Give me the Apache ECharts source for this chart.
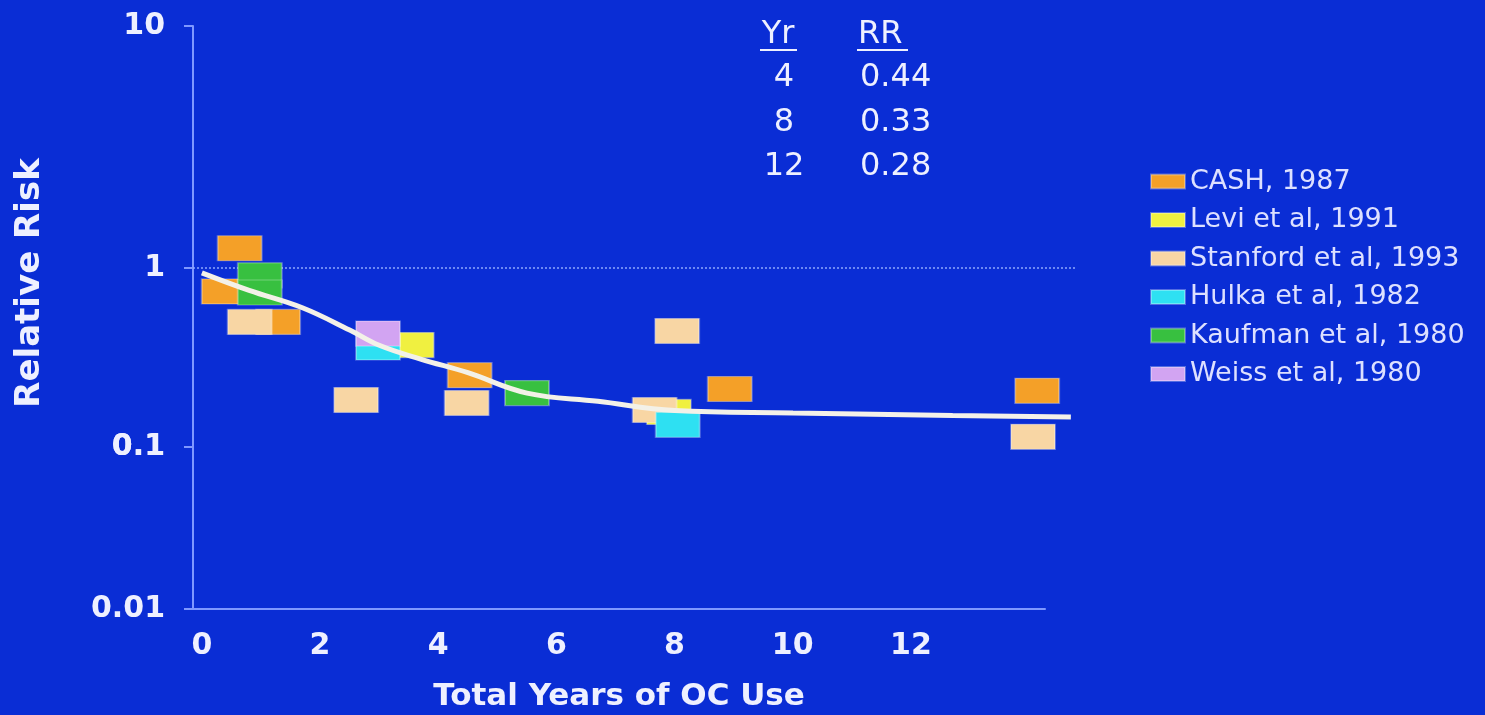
<!DOCTYPE html>
<html>
<head>
<meta charset="utf-8">
<script src="https://cdn.jsdelivr.net/npm/echarts@6/dist/echarts.min.js"></script>
<style>
html,body{margin:0;padding:0;background:#0a2dd5;}
#c{width:1485px;height:715px;}
</style>
</head>
<body>
<div id="c"></div>
<script>
// ---- data ----
const seriesNames = ['CASH, 1987', 'Levi et al, 1991', 'Stanford et al, 1993', 'Hulka et al, 1982', 'Kaufman et al, 1980', 'Weiss et al, 1980'];
const seriesColors = ['#f4a028', '#f0f040', '#f8d6a4', '#2ee0f2', '#38c040', '#d2a4f2'];
const cashPoints = [[0.37, 0.74], [0.64, 1.29], [1.29, 0.50], [4.53, 0.252], [8.93, 0.211], [14.13, 0.206]];
const leviPoints = [[3.55, 0.371], [7.9, 0.157]];
const stanfordPoints = [[0.81, 0.50], [2.61, 0.183], [4.48, 0.176], [7.66, 0.161], [8.04, 0.445], [14.06, 0.114]];
const hulkaPoints = [[2.98, 0.36], [8.05, 0.133]];
const kaufmanPoints = [[0.98, 0.91], [0.98, 0.73], [5.5, 0.20]];
const weissPoints = [[2.98, 0.43]];
const fitYears = [0, 0.8, 1.7, 2.5, 3, 3.7, 4.5, 5.5, 6.7, 8, 10, 12.7, 14.7];
const fitRR = [0.94, 0.75, 0.6, 0.45, 0.37, 0.31, 0.26, 0.2, 0.18, 0.16, 0.155, 0.15, 0.147];
const refRR = 1;
const xTickLabels = [0, 2, 4, 6, 8, 10, 12];
const yTickLabels = [0.01, 0.1, 1, 10];
const tableHeader = ['Yr', 'RR'];
const tableYr = ['4', '8', '12'];
const tableRR = ['0.44', '0.33', '0.28'];

// ---- styles ----
const axisColor = '#7f98ff';
const labelColor = '#eef0ff';
const fontFam = '"DejaVu Sans", Verdana, sans-serif';

const pointSets = [cashPoints, leviPoints, stanfordPoints, hulkaPoints, kaufmanPoints, weissPoints];

function fmtY(v) {
  const m = yTickLabels.find(t => Math.abs(t - v) / t < 1e-6);
  return m !== undefined ? String(m) : '';
}
function fmtX(v) {
  return xTickLabels.includes(v) ? String(v) : '';
}

const xMin = -0.15;
const gridLeft = 193;

const yBase = {
  type: 'log', logBase: 10,
  axisLine: { show: true, onZero: false, lineStyle: { color: axisColor, width: 2 } },
  axisTick: { show: true, length: 9, lineStyle: { color: axisColor, width: 2 } },
  splitLine: { show: false },
  axisLabel: { color: labelColor, fontSize: 30, fontWeight: 'bold', fontFamily: fontFam, margin: 28, formatter: fmtY }
};

const scatterSeries = seriesNames.map((name, i) => ({
  name: name,
  type: 'scatter',
  xAxisIndex: 1, yAxisIndex: 1,
  clip: false,
  z: 3,
  symbol: 'rect',
  symbolSize: [44, 25],
  itemStyle: { color: seriesColors[i], opacity: 1, borderColor: 'rgba(255,255,255,0.3)', borderWidth: 1.5 },
  data: pointSets[i]
}));

const tableFont = '32px ' + fontFam;
const graphics = [
  {
    type: 'text', x: 30, y: 283, rotation: Math.PI / 2,
    style: { text: 'Relative Risk', fill: labelColor, font: 'bold 34px ' + fontFam, align: 'center', verticalAlign: 'middle' }
  },
  { type: 'text', x: 778, y: 35, style: { text: tableHeader[0], fill: labelColor, font: tableFont, align: 'center', verticalAlign: 'middle' } },
  { type: 'text', x: 858, y: 35, style: { text: tableHeader[1], fill: labelColor, font: tableFont, align: 'left', verticalAlign: 'middle' } },
  { type: 'line', shape: { x1: 760, y1: 50, x2: 797, y2: 50 }, style: { stroke: labelColor, lineWidth: 2 } },
  { type: 'line', shape: { x1: 857, y1: 50, x2: 908, y2: 50 }, style: { stroke: labelColor, lineWidth: 2 } }
];
tableYr.forEach((yr, i) => {
  graphics.push({ type: 'text', x: 784, y: 78 + i * 44.5, style: { text: yr, fill: labelColor, font: tableFont, align: 'center', verticalAlign: 'middle' } });
  graphics.push({ type: 'text', x: 860, y: 78 + i * 44.5, style: { text: tableRR[i], fill: labelColor, font: tableFont, align: 'left', verticalAlign: 'middle' } });
});

const option = {
  backgroundColor: '#0a2dd5',
  animation: false,
  grid: [
    { left: gridLeft, top: 26, width: 852, height: 242, containLabel: false, outerBoundsMode: 'none' },
    { left: gridLeft, top: 268, width: 882, height: 179, containLabel: false, outerBoundsMode: 'none' },
    { left: gridLeft, top: 447, width: 852, height: 162, containLabel: false, outerBoundsMode: 'none' }
  ],
  xAxis: [
    { type: 'value', gridIndex: 0, min: xMin, max: 14.27, show: false },
    { type: 'value', gridIndex: 1, min: xMin, max: 14.77, show: false },
    {
      type: 'value', gridIndex: 2, min: xMin, max: 14.27, splitNumber: 7,
      axisLine: { show: true, onZero: false, lineStyle: { color: axisColor, width: 2 } },
      axisTick: { show: false },
      splitLine: { show: false },
      axisLabel: { color: labelColor, fontSize: 30, fontWeight: 'bold', fontFamily: fontFam, margin: 22, formatter: fmtX, showMinLabel: true, showMaxLabel: true },
      name: 'Total Years of OC Use',
      nameLocation: 'middle',
      nameGap: 72,
      nameTextStyle: { color: labelColor, fontSize: 31, fontWeight: 'bold', fontFamily: fontFam }
    }
  ],
  yAxis: [
    Object.assign({}, yBase, { gridIndex: 0, min: 1, max: 10 }),
    Object.assign({}, yBase, { gridIndex: 1, min: 0.1, max: 1, axisLabel: Object.assign({}, yBase.axisLabel, { showMaxLabel: false }) }),
    Object.assign({}, yBase, { gridIndex: 2, min: 0.01, max: 0.1, axisLabel: Object.assign({}, yBase.axisLabel, { showMaxLabel: false }) })
  ],
  legend: {
    orient: 'vertical', left: 1145, top: 163,
    itemWidth: 34, itemHeight: 14, itemGap: 11.5,
    icon: 'rect',
    textStyle: { color: '#dde0ff', fontSize: 27, fontFamily: fontFam, lineHeight: 26 },
    data: seriesNames
  },
  graphic: graphics,
  series: [
    {
      name: 'ref', type: 'line', xAxisIndex: 1, yAxisIndex: 1, z: 1, clip: false,
      symbol: 'none', silent: true,
      lineStyle: { color: 'rgba(150,175,255,0.7)', width: 2, type: 'dotted' },
      data: [[xMin, refRR], [14.77, refRR]]
    }
  ].concat(scatterSeries).concat([
    {
      name: 'fit', type: 'line', xAxisIndex: 1, yAxisIndex: 1, z: 4, clip: false,
      smooth: 0.4, symbol: 'none', silent: true,
      lineStyle: { color: '#f3f1e8', width: 5 },
      data: fitYears.map((x, i) => [x, fitRR[i]])
    }
  ])
};

const chart = echarts.init(document.getElementById('c'), null, { renderer: 'canvas' });
chart.setOption(option);
</script>
</body>
</html>
